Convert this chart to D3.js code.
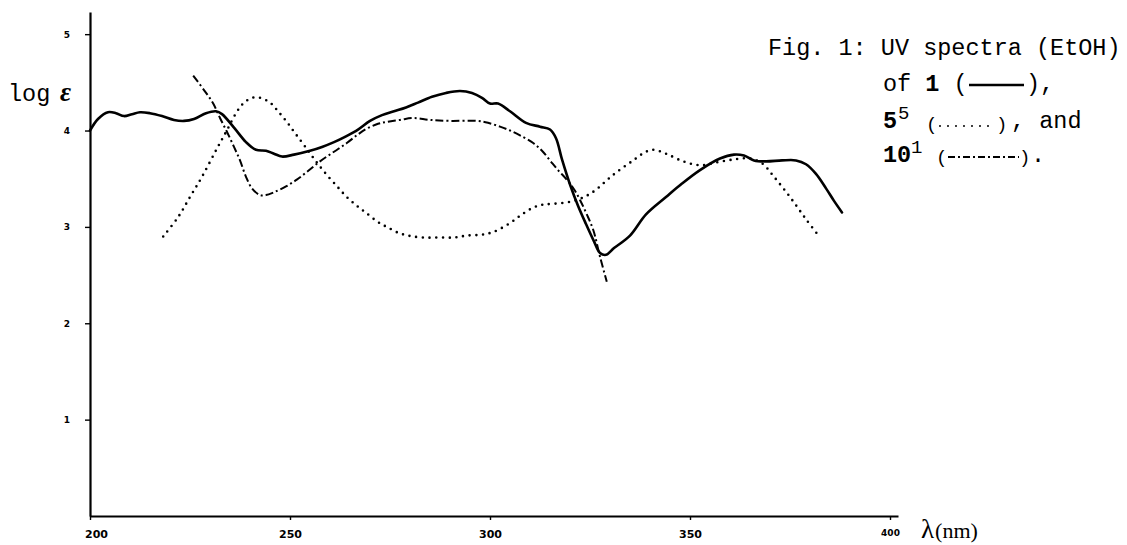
<!DOCTYPE html>
<html>
<head>
<meta charset="utf-8">
<script src="https://cdn.jsdelivr.net/npm/d3@7"></script>
<style>
  body { margin: 0; background: #fff; }
  .tick text { font-family: "DejaVu Sans", sans-serif; font-weight: bold; fill: #000; }
</style>
</head>
<body>
<div id="chart"></div>
<script>
/* UV spectra (EtOH) of 1, 5 and 10 */

// compound 1 (solid)
const nm1 = [200, 202, 204.5, 206.5, 208.5, 210.5, 212.5, 215, 218, 221, 223.5, 226, 229, 231.5, 233, 236, 239, 241.5, 244, 246, 248, 251, 255, 258, 261, 264, 267, 270, 273, 276, 279, 282, 285.5, 289, 292.5, 295.5, 298, 300, 302, 305, 309, 312.5, 315, 316.5, 318, 320, 322, 324, 326, 327.5, 329, 331, 335, 339, 344, 348, 352.5, 357.5, 361, 363.5, 366, 369, 373, 376.5, 379, 381.5, 384, 386, 388];
const logE1 = [4.00, 4.12, 4.19, 4.18, 4.15, 4.17, 4.19, 4.18, 4.15, 4.11, 4.10, 4.12, 4.18, 4.20, 4.17, 4.03, 3.88, 3.80, 3.79, 3.76, 3.73, 3.75, 3.79, 3.83, 3.88, 3.94, 4.01, 4.10, 4.16, 4.20, 4.24, 4.29, 4.35, 4.39, 4.41, 4.39, 4.34, 4.28, 4.28, 4.20, 4.08, 4.04, 4.01, 3.92, 3.70, 3.44, 3.22, 3.03, 2.85, 2.73, 2.71, 2.78, 2.91, 3.13, 3.31, 3.45, 3.59, 3.71, 3.75, 3.74, 3.69, 3.68, 3.69, 3.69, 3.65, 3.55, 3.40, 3.27, 3.15];

// compound 5 (dotted)
const nm5 = [218.3, 222, 225, 228, 231.7, 234.2, 236.5, 238.3, 240.5, 242.5, 245, 247, 249.2, 251.5, 254.2, 256.5, 259.2, 262, 264.2, 267, 269.2, 272, 274.2, 277, 279.5, 283, 287, 291, 294.2, 298, 301, 305, 308, 310.8, 313, 316, 320, 323, 326, 330.8, 335.8, 339, 341, 344, 348.3, 352.5, 356.7, 361, 365, 368, 371, 375, 379, 382.5];
const logE5 = [2.90, 3.10, 3.31, 3.52, 3.81, 4.00, 4.18, 4.28, 4.34, 4.34, 4.29, 4.20, 4.09, 3.96, 3.81, 3.68, 3.54, 3.41, 3.31, 3.21, 3.14, 3.05, 3.00, 2.94, 2.91, 2.89, 2.89, 2.89, 2.91, 2.92, 2.95, 3.04, 3.13, 3.20, 3.23, 3.24, 3.26, 3.30, 3.37, 3.54, 3.69, 3.78, 3.80, 3.76, 3.68, 3.64, 3.67, 3.70, 3.71, 3.66, 3.52, 3.31, 3.08, 2.89];

// compound 10 (dash-dot)
const nm10 = [225.8, 228.5, 230.8, 232.5, 234.2, 236, 237.5, 239, 240.5, 242.5, 244, 246, 249, 251.7, 254.5, 257.5, 261, 264.2, 267, 269.2, 272, 274.2, 277.5, 280.8, 285, 290, 296.7, 299.5, 302.5, 305, 307.5, 310.8, 313, 315, 317, 319.2, 321, 322.5, 324.2, 325.8, 327.5, 329.2];
const logE10 = [4.57, 4.42, 4.28, 4.13, 3.99, 3.83, 3.69, 3.52, 3.40, 3.33, 3.33, 3.36, 3.42, 3.49, 3.58, 3.68, 3.78, 3.87, 3.96, 4.02, 4.07, 4.09, 4.11, 4.13, 4.11, 4.10, 4.10, 4.08, 4.04, 4.00, 3.95, 3.87, 3.79, 3.69, 3.59, 3.49, 3.39, 3.28, 3.13, 2.97, 2.69, 2.43];

const xTicks = [200, 250, 300, 350, 400];
const yTicks = [1, 2, 3, 4, 5];

/* size */
const width = 1127,
      height = 545;

let svg = d3.select("#chart")
            .append("svg")
            .attr("width", width)
            .attr("height", height);

let x = d3.scaleLinear().domain([200, 402]).range([90, 898]);
let y = d3.scaleLinear().domain([0, 5.23]).range([516, 12]);

/* axes */
const xAxis = g => g
      .attr("transform", `translate(0, ${y(0)})`)
      .call(d3.axisBottom(x).tickValues(xTicks).tickFormat(d3.format("d"))
              .tickSize(4).tickSizeOuter(0).tickPadding(10));

const yAxis = g => g
      .attr("transform", `translate(${x(200)}, 0)`)
      .call(d3.axisLeft(y).tickValues(yTicks).tickFormat(d3.format("d"))
              .tickSize(5).tickSizeOuter(0).tickPadding(15));

let gx = svg.append("g").call(xAxis);
let gy = svg.append("g").call(yAxis);

[gx, gy].forEach(g => {
  g.select(".domain").attr("stroke", "#000").attr("stroke-width", 2.2);
  g.selectAll(".tick line").attr("stroke", "#000").attr("stroke-width", 1.4);
});
gx.selectAll(".tick text")
  .attr("dx", d => d === 200 ? 6 : 0)
  .attr("font-size", d => d === 400 ? 9 : 11);
gy.selectAll(".tick text").attr("font-size", 9);

/* axis titles */
svg.append("text")
   .attr("x", 8).attr("y", 101)
   .attr("font-family", "Liberation Mono, monospace")
   .attr("font-size", 23.5)
   .text("log");
svg.append("text")
   .attr("x", 60).attr("y", 101)
   .attr("font-family", "Liberation Serif, serif")
   .attr("font-weight", "bold").attr("font-style", "italic")
   .attr("font-size", 27)
   .text("ε");

let xt = svg.append("text")
   .attr("x", 921).attr("y", 538)
   .attr("font-family", "Liberation Serif, serif");
xt.append("tspan").attr("font-size", 27).text("λ");
xt.append("tspan").attr("font-size", 22).attr("dx", 1).text("(nm)");

/* curves */
const line = d3.line()
      .x(d => x(d[0]))
      .y(d => y(d[1]))
      .curve(d3.curveCatmullRom.alpha(0.5));

const styles = {
  solid:   {w: 2.6, dash: null, cap: "round"},
  dotted:  {w: 2.6, dash: "0,6.7", cap: "round"},
  dashdot: {w: 2, dash: "8,3,2,3", cap: "butt"}
};

const series = [
  {nm: nm1, v: logE1, s: styles.solid},
  {nm: nm5, v: logE5, s: styles.dotted},
  {nm: nm10, v: logE10, s: styles.dashdot}
];

svg.selectAll(".spec")
   .data(series)
   .join("path")
   .attr("class", "spec")
   .attr("fill", "none")
   .attr("stroke", "#000")
   .attr("stroke-width", d => d.s.w)
   .attr("stroke-dasharray", d => d.s.dash)
   .attr("stroke-linecap", d => d.s.cap)
   .attr("stroke-linejoin", "round")
   .attr("d", d => line(d3.zip(d.nm, d.v)));

/* caption / legend */
const mono = "Liberation Mono, monospace";
const fs = 23.5;

svg.append("text")
   .attr("x", 768).attr("y", 55)
   .attr("font-family", mono).attr("font-size", fs)
   .attr("xml:space", "preserve")
   .text("Fig. 1: UV spectra (EtOH)");

// line 2
let l2 = svg.append("text")
   .attr("x", 883).attr("y", 91)
   .attr("font-family", mono).attr("font-size", fs)
   .attr("xml:space", "preserve");
l2.append("tspan").text("of ");
l2.append("tspan").attr("font-weight", "bold").text("1");
l2.append("tspan").text(" (");
svg.append("text")
   .attr("x", 1026).attr("y", 91)
   .attr("font-family", mono).attr("font-size", fs)
   .text("),");
svg.append("line")
   .attr("x1", 969).attr("x2", 1024).attr("y1", 85).attr("y2", 85)
   .attr("stroke", "#000").attr("stroke-width", styles.solid.w);

// line 3
svg.append("text")
   .attr("x", 883).attr("y", 128)
   .attr("font-family", mono).attr("font-size", fs).attr("font-weight", "bold")
   .text("5");
svg.append("text")
   .attr("x", 898).attr("y", 119)
   .attr("font-family", mono).attr("font-size", 19)
   .text("5");
svg.append("text")
   .attr("x", 926).attr("y", 130)
   .attr("font-family", mono).attr("font-size", 19)
   .text("(");
svg.append("text")
   .attr("x", 996).attr("y", 130)
   .attr("font-family", mono).attr("font-size", 19)
   .text(")");
svg.append("text")
   .attr("x", 1011).attr("y", 128)
   .attr("font-family", mono).attr("font-size", fs)
   .attr("xml:space", "preserve")
   .text(", and");
svg.append("line")
   .attr("x1", 940).attr("x2", 996).attr("y1", 126).attr("y2", 126)
   .attr("stroke", "#000").attr("stroke-width", 2)
   .attr("stroke-dasharray", "0,8").attr("stroke-linecap", "round");

// line 4
svg.append("text")
   .attr("x", 883).attr("y", 162)
   .attr("font-family", mono).attr("font-size", fs).attr("font-weight", "bold")
   .text("10");
svg.append("text")
   .attr("x", 911).attr("y", 153)
   .attr("font-family", mono).attr("font-size", 19)
   .text("1");
svg.append("text")
   .attr("x", 936).attr("y", 163)
   .attr("font-family", mono).attr("font-size", 19)
   .text("(");
svg.append("text")
   .attr("x", 1019).attr("y", 163)
   .attr("font-family", mono).attr("font-size", 19)
   .text(")");
svg.append("text")
   .attr("x", 1031).attr("y", 162)
   .attr("font-family", mono).attr("font-size", fs)
   .text(".");
svg.append("line")
   .attr("x1", 948).attr("x2", 1019).attr("y1", 157).attr("y2", 157)
   .attr("stroke", "#000").attr("stroke-width", 1.8)
   .attr("stroke-dasharray", "7,3,2,3");
</script>
</body>
</html>
